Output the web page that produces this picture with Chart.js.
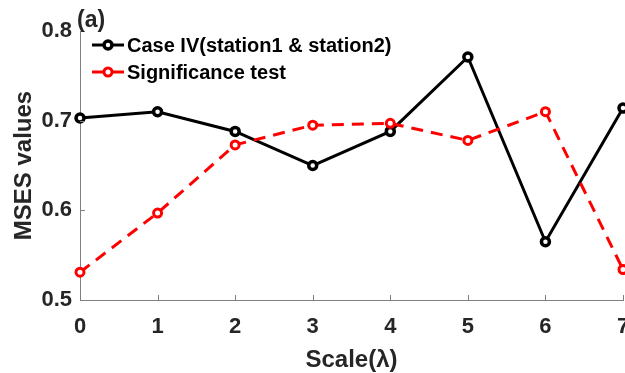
<!DOCTYPE html>
<html>
<head>
<meta charset="utf-8">
<script src="https://cdn.jsdelivr.net/npm/chart.js@4.4.0/dist/chart.umd.min.js"></script>
<style>
  html, body { margin: 0; padding: 0; background: #fff; }
</style>
</head>
<body>
<canvas id="myChart" width="625" height="373"></canvas>
<script>
// values
const scales = [0, 1, 2, 3, 4, 5, 6, 7];
const caseIV = [0.703, 0.710, 0.688, 0.650, 0.688, 0.771, 0.565, 0.714];
const sigTest = [0.531, 0.597, 0.673, 0.695, 0.697, 0.678, 0.710, 0.534];
const yTicks = [0.5, 0.6, 0.7, 0.8];
const seriesNames = ['Case IV(station1 & station2)', 'Significance test'];
const panelLabel = '(a)';

const FONT = '"Liberation Sans", Arial, sans-serif';
const AXIS_GREY = '#808080';
const TEXT = '#262626';

function toPoints(values) {
    return scales.map((s, i) => ({ x: s, y: values[i] }));
}

// MATLAB style: ticks inside, panel letter, legend with line + marker
const matlabBits = {
    id: 'matlabBits',
    afterDraw(chart) {
        const ctx = chart.ctx;
        const area = chart.chartArea;
        const xs = chart.scales.x;
        const ys = chart.scales.y;

        ctx.save();
        ctx.strokeStyle = AXIS_GREY;
        ctx.lineWidth = 1;
        ctx.beginPath();
        for (let v of scales) {
            const px = Math.round(xs.getPixelForValue(v)) + 0.5;
            ctx.moveTo(px, area.bottom);
            ctx.lineTo(px, area.bottom - 5);
        }
        for (let v of yTicks) {
            const py = Math.round(ys.getPixelForValue(v)) + 0.5;
            ctx.moveTo(area.left, py);
            ctx.lineTo(area.left + 5, py);
        }
        ctx.stroke();

        ctx.fillStyle = TEXT;
        ctx.font = 'bold 23px ' + FONT;
        ctx.textAlign = 'left';
        ctx.textBaseline = 'alphabetic';
        ctx.fillText(panelLabel, area.left - 3, 27);

        const rows = [45, 72];
        chart.data.datasets.forEach((ds, i) => {
            const y = rows[i];
            ctx.strokeStyle = ds.borderColor;
            ctx.lineWidth = ds.borderWidth;
            ctx.setLineDash(ds.borderDash || []);
            ctx.beginPath();
            ctx.moveTo(area.left + 12, y);
            ctx.lineTo(area.left + 44, y);
            ctx.stroke();
            ctx.setLineDash([]);
            ctx.lineWidth = ds.pointBorderWidth;
            ctx.fillStyle = '#fff';
            ctx.beginPath();
            ctx.arc(area.left + 28, y, ds.pointRadius, 0, Math.PI * 2);
            ctx.fill();
            ctx.stroke();
            ctx.fillStyle = '#000';
            ctx.font = 'bold 20px ' + FONT;
            ctx.textBaseline = 'middle';
            ctx.fillText(ds.label, area.left + 47, y + 1);
        });
        ctx.restore();
    }
};

var ctx = document.getElementById('myChart').getContext('2d');

var myChart = new Chart(ctx, { // eslint-disable-line
    type: 'line',
    data: {
        datasets: [{
            label: seriesNames[0],
            data: toPoints(caseIV),
            borderColor: '#000000',
            backgroundColor: '#ffffff',
            borderWidth: 3,
            pointRadius: 4,
            pointBorderWidth: 3.5,
            pointBackgroundColor: '#ffffff',
            pointBorderColor: '#000000',
            tension: 0,
            clip: false,
            order: 1
        },
        {
            label: seriesNames[1],
            data: toPoints(sigTest),
            borderColor: '#ff0000',
            backgroundColor: '#ffffff',
            borderWidth: 3,
            borderDash: [12, 8],
            pointRadius: 4,
            pointBorderWidth: 3,
            pointBackgroundColor: '#ffffff',
            pointBorderColor: '#ff0000',
            tension: 0,
            clip: false,
            order: 0
        }]
    },
    options: {
        responsive: false,
        animation: false,
        layout: { autoPadding: false, padding: { top: 31, right: 2, left: 0, bottom: 0 } },
        plugins: {
            legend: { display: false },
            tooltip: { enabled: false }
        },
        scales: {
            x: {
                type: 'linear',
                min: 0,
                max: 7,
                grid: { display: false, drawTicks: false },
                border: { display: true, color: AXIS_GREY, width: 1 },
                afterBuildTicks: (scale) => {
                    scale.ticks = scales.map(v => ({ value: v }));
                },
                afterFit: (scale) => {
                    scale.height = 73;
                    scale.paddingLeft = 0;
                    scale.paddingRight = 0;
                },
                ticks: {
                    color: TEXT,
                    padding: 14,
                    maxRotation: 0,
                    font: { family: FONT, size: 22, weight: 'bold' },
                    callback: v => String(v)
                },
                title: {
                    display: true,
                    text: 'Scale(\u03bb)',
                    color: TEXT,
                    padding: { top: 0, bottom: -2 },
                    font: { family: FONT, size: 24, weight: 'bold', lineHeight: 1.2 }
                }
            },
            y: {
                min: 0.5,
                max: 0.8,
                grid: { display: false, drawTicks: false },
                border: { display: true, color: AXIS_GREY, width: 1 },
                afterBuildTicks: (scale) => {
                    scale.ticks = yTicks.map(v => ({ value: v }));
                },
                afterFit: (scale) => {
                    scale.width = 80;
                    scale.paddingTop = 0;
                    scale.paddingBottom = 0;
                },
                ticks: {
                    color: TEXT,
                    padding: 8,
                    font: { family: FONT, size: 22, weight: 'bold' },
                    callback: v => v.toFixed(1)
                },
                title: {
                    display: true,
                    text: 'MSES values',
                    color: TEXT,
                    padding: { top: 10, bottom: 0 },
                    font: { family: FONT, size: 24, weight: 'bold', lineHeight: 1.2 }
                }
            }
        }
    },
    plugins: [matlabBits]
});
</script>
</body>
</html>
